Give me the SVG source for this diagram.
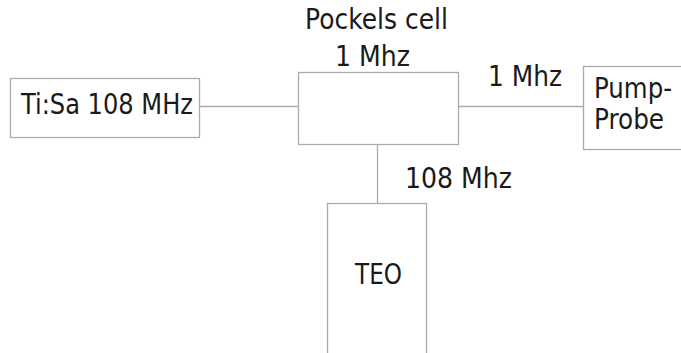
<svg xmlns="http://www.w3.org/2000/svg" width="681" height="353" viewBox="0 0 681 353">
<style>
.box{fill:#fff;stroke:#ababab;stroke-width:1.3}
.ln{stroke:#ababab;stroke-width:1.3;fill:none}
text{font-family:"DejaVu Sans","Liberation Sans",sans-serif;font-size:28px;fill:#1a1a1a}
</style>
<rect width="681" height="353" fill="#fff"/>
<g id="connectors">
<line class="ln" x1="199" y1="106.5" x2="298" y2="106.5"/>
<line class="ln" x1="458" y1="106.5" x2="583" y2="106.5"/>
<line class="ln" x1="377.5" y1="144" x2="377.5" y2="203"/>
</g>
<g id="tisa">
<rect class="box" x="10.5" y="78.5" width="189" height="59"/>
<text x="21" y="114" textLength="172" lengthAdjust="spacingAndGlyphs">Ti:Sa 108 MHz</text>
</g>
<g id="pockels">
<rect class="box" x="298.5" y="72.5" width="160" height="72"/>
<text x="305" y="29" textLength="143" lengthAdjust="spacingAndGlyphs">Pockels cell</text>
<text x="335" y="66" textLength="75" lengthAdjust="spacingAndGlyphs">1 Mhz</text>
</g>
<g id="pumpprobe">
<rect class="box" x="583.5" y="66.5" width="110" height="83"/>
<text x="594" y="98" textLength="78" lengthAdjust="spacingAndGlyphs">Pump-</text>
<text x="594" y="129" textLength="70" lengthAdjust="spacingAndGlyphs">Probe</text>
</g>
<g id="teo">
<rect class="box" x="327.5" y="203.5" width="99" height="160"/>
<text x="355" y="284" textLength="47" lengthAdjust="spacingAndGlyphs">TEO</text>
</g>
<g id="labels">
<text x="488" y="86" textLength="74" lengthAdjust="spacingAndGlyphs">1 Mhz</text>
<text x="405" y="188" textLength="107" lengthAdjust="spacingAndGlyphs">108 Mhz</text>
</g>
</svg>
